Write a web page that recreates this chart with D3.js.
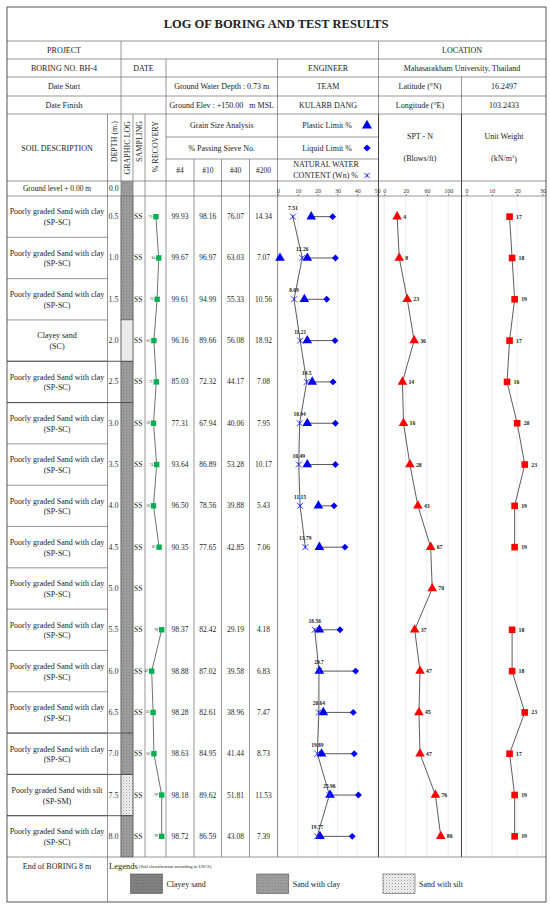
<!DOCTYPE html>
<html>
<head>
<meta charset="utf-8">
<script src="https://cdn.jsdelivr.net/npm/d3@7"></script>
<style>
  body { margin: 0; background: #fff; }
  svg { font-family: "Liberation Serif", "Times New Roman", serif; }
</style>
</head>
<body>
<svg width="550" height="910"></svg>
<script>
'use strict';

const depths = [0.5, 1.0, 1.5, 2.0, 2.5, 3.0, 3.5, 4.0, 4.5, 5.0, 5.5, 6.0, 6.5, 7.0, 7.5, 8.0]
const soilNames = ['Poorly graded Sand with clay', 'Poorly graded Sand with clay', 'Poorly graded Sand with clay',
  'Clayey sand', 'Poorly graded Sand with clay', 'Poorly graded Sand with clay', 'Poorly graded Sand with clay',
  'Poorly graded Sand with clay', 'Poorly graded Sand with clay', 'Poorly graded Sand with clay',
  'Poorly graded Sand with clay', 'Poorly graded Sand with clay', 'Poorly graded Sand with clay',
  'Poorly graded Sand with clay', 'Poorly graded Sand with silt', 'Poorly graded Sand with clay']
const uscs = ['(SP-SC)', '(SP-SC)', '(SP-SC)', '(SC)', '(SP-SC)', '(SP-SC)', '(SP-SC)', '(SP-SC)',
  '(SP-SC)', '(SP-SC)', '(SP-SC)', '(SP-SC)', '(SP-SC)', '(SP-SC)', '(SP-SM)', '(SP-SC)']
const sampling = depths.map(() => 'SS')
const recovery = [70, 84, 76, 60, 72, 58, 74, 58, 86, null, 99, 49, 56, 60, 99, 99]
const sieve4 = [99.93, 99.67, 99.61, 96.16, 85.03, 77.31, 93.64, 96.50, 90.35, null, 98.37, 98.88, 98.28, 98.63, 98.18, 98.72]
const sieve10 = [98.16, 96.97, 94.99, 89.66, 72.32, 67.94, 86.89, 78.56, 77.65, null, 82.42, 87.02, 82.61, 84.95, 89.62, 86.59]
const sieve40 = [76.07, 63.03, 55.33, 56.08, 44.17, 40.06, 53.28, 39.88, 42.85, null, 29.19, 39.58, 38.96, 41.44, 51.81, 43.08]
const sieve200 = [14.34, 7.07, 10.56, 18.92, 7.08, 7.95, 10.17, 5.43, 7.06, null, 4.18, 6.83, 7.47, 8.73, 11.53, 7.39]
const waterContent = [7.51, 12.26, 8.09, 11.21, 14.5, 10.94, 10.49, 11.15, 13.79, null, 18.56, 20.7, 20.64, 19.89, 25.96, 19.77]
const plasticLimit = [16.8, 14.8, 13.3, 14.8, 17.3, 14.8, 14.8, 20.4, 20.9, null, 20.9, 20.9, 22.9, 22, 26.3, 21.2]
const liquidLimit = [27.6, 29, 24.6, 28.8, 27.8, 29, 29, 28.3, 33.8, null, 31.3, 39.2, 38, 38.5, 40.6, 37.5]
const extraPlastic = [{depth: 1.0, value: 1}]
const sptN = [4, 8, 23, 36, 14, 16, 28, 43, 67, 70, 37, 47, 45, 47, 76, 86]
const unitWeight = [17, 18, 19, 17, 16, 20, 23, 19, 19, null, 18, 18, 23, 17, 19, 19]

const moistTicks = [0, 10, 20, 30, 40, 50]
const sptTicks = [-20, 20, 60, 100]
const sptTickLabels = ['0', '20', '60', '100']
const uwTicks = [0, 10, 20, 30]

const logLayers = [
  {from: 0.5, to: 1.5, kind: 'sandClay'},
  {from: 2.0, to: 2.0, kind: 'clayey'},
  {from: 2.5, to: 7.0, kind: 'sandClay'},
  {from: 7.5, to: 7.5, kind: 'silt'},
  {from: 8.0, to: 8.0, kind: 'sandClay'}
]
const layerBreaks = [2.5, 3.0, 7.0, 7.5, 8.0]
const legendItems = [
  {label: 'Clayey sand', kind: 'legendClayey'},
  {label: 'Sand with clay', kind: 'sandClay'},
  {label: 'Sand with silt', kind: 'silt'}
]

// ---- layout ----
const svg = d3.select('svg')
const L = 7, R = 546
const col = {desc: 107.5, depth: 121, glog: 133, samp: 145, rec: 166, s4: 194, s10: 221.5, s40: 249.5, s200: 277.5, moist: 378.5, spt: 461.5}
const rowTop = 196, rowBottom = 857, groundTop = 181
const lineColor = '#6a6a6a'

const y = d3.scaleBand().domain(depths).range([rowTop, rowBottom])
const bw = y.bandwidth()
const cy = (d) => y(d) + bw / 2

const xRec = d3.scaleLinear().domain([0, 100]).range([141.9, 161.9])
const xMoist = d3.scaleLinear().domain([0, 50]).range([278, 377])
const xSpt = d3.scaleLinear().domain([0, 100]).range([395, 448.2])
const xUw = d3.scaleLinear().domain([0, 30]).range([466.5, 542.5])

const rows = depths.map((d, i) => ({
  depth: d, name: soilNames[i], uscs: uscs[i], samp: sampling[i], rec: recovery[i],
  s4: sieve4[i], s10: sieve10[i], s40: sieve40[i], s200: sieve200[i],
  wn: waterContent[i], pl: plasticLimit[i], ll: liquidLimit[i], spt: sptN[i], uw: unitWeight[i]
}))

// X marker with a short bar, like the spreadsheet "star" marker
const symbolStarX = {
  draw(ctx, size) {
    const r = Math.sqrt(size) / 2
    ctx.moveTo(-r, -r); ctx.lineTo(r, r)
    ctx.moveTo(r, -r); ctx.lineTo(-r, r)
    ctx.moveTo(0, -r * 0.6); ctx.lineTo(0, r * 0.6)
  }
}

// patterns
const defs = svg.append('defs')
function dotPattern(id, bg, d1, d2) {
  const p = defs.append('pattern').attr('id', id).attr('width', 3).attr('height', 3).attr('patternUnits', 'userSpaceOnUse')
  p.append('rect').attr('width', 3).attr('height', 3).attr('fill', bg)
  if (d1) p.append('rect').attr('width', 1).attr('height', 1).attr('fill', d1)
  if (d2) p.append('rect').attr('x', 1.5).attr('y', 1.5).attr('width', 1).attr('height', 1).attr('fill', d2)
}
dotPattern('sandClay', '#a0a0a0', '#7e7e7e', '#8a8a8a')
dotPattern('clayey', '#ebebeb')
dotPattern('legendClayey', '#858585', '#606060', '#6a6a6a')
dotPattern('silt', '#f3f3f3', '#9a9a9a', '#b5b5b5')

function text(x, yy, s, size, anchor, weight) {
  return svg.append('text')
    .attr('x', x).attr('y', yy)
    .attr('text-anchor', anchor || 'middle')
    .attr('dominant-baseline', 'central')
    .style('font-size', (size || 8) + 'px')
    .style('font-weight', weight || 'normal')
    .style('white-space', 'pre')
    .attr('fill', '#222')
    .text(s)
}
function hline(x1, x2, yy, w, c) {
  svg.append('line').attr('x1', x1).attr('x2', x2).attr('y1', yy).attr('y2', yy)
    .attr('stroke', c || lineColor).attr('stroke-width', w || 0.7)
}
function vline(x, y1, y2, w, c) {
  svg.append('line').attr('x1', x).attr('x2', x).attr('y1', y1).attr('y2', y2)
    .attr('stroke', c || lineColor).attr('stroke-width', w || 0.7)
}

// ---- graphic log ----
svg.append('rect').attr('x', col.depth).attr('y', groundTop).attr('width', col.glog - col.depth)
  .attr('height', rowTop - groundTop).attr('fill', 'url(#sandClay)')
svg.selectAll('rect.layer').data(logLayers).enter().append('rect').classed('layer', true)
  .attr('x', col.depth).attr('width', col.glog - col.depth)
  .attr('y', (d) => y(d.from))
  .attr('height', (d) => y(d.to) + bw - y(d.from))
  .attr('fill', (d) => 'url(#' + d.kind + ')')
  .attr('stroke', '#555').attr('stroke-width', 0.5)

// ---- chart gridlines ----
const grid = svg.append('g').attr('stroke', '#e2e2e2').attr('stroke-width', 0.6)
moistTicks.forEach((t) => grid.append('line').attr('x1', xMoist(t)).attr('x2', xMoist(t)).attr('y1', rowTop).attr('y2', rowBottom))
sptTicks.forEach((t) => grid.append('line').attr('x1', xSpt(t)).attr('x2', xSpt(t)).attr('y1', rowTop).attr('y2', rowBottom))
uwTicks.forEach((t) => grid.append('line').attr('x1', xUw(t)).attr('x2', xUw(t)).attr('y1', rowTop).attr('y2', rowBottom))

// ---- table lines ----
;[41, 59, 77, 96, 114, groundTop].forEach((yy) => hline(L, R, yy))
hline(L, col.depth, rowTop); hline(col.glog, R, rowTop)
hline(L, R, rowBottom)
hline(col.rec, col.moist, 137); hline(col.rec, col.moist, 159)
depths.slice(1).forEach((d) => hline(L, col.desc, y(d)))
layerBreaks.forEach((d) => hline(L, col.glog, y(d), 0.9, '#444'))

vline(col.depth, 41, 114); vline(col.moist, 41, 114)
vline(col.rec, 59, 114); vline(col.s200, 59, 114); vline(col.spt, 77, 114)
;[col.desc, col.depth, col.glog, col.samp, col.rec, col.s200].forEach((x) => vline(x, 114, rowBottom))
;[col.s4, col.s10, col.s40].forEach((x) => vline(x, 159, rowBottom))
vline(col.moist, 114, rowBottom, 1, '#444'); vline(col.spt, 114, rowBottom, 1, '#444')
vline(col.desc, rowBottom, 902)
svg.append('rect').attr('x', L).attr('y', 7).attr('width', R - L).attr('height', 895)
  .attr('fill', 'none').attr('stroke', '#444').attr('stroke-width', 0.9)

// ---- heading ----
text(276, 24, 'LOG OF BORING AND TEST RESULTS', 12.5, 'middle', 'bold')
text(64, 50, 'PROJECT'); text(462, 50, 'LOCATION')
text(64, 68, 'BORING NO. BH-4'); text(143.5, 68, 'DATE'); text(328, 68, 'ENGINEER')
text(462, 68, 'Mahasarakham University, Thailand')
text(64, 86.5, 'Date Start'); text(221.75, 86.5, 'Ground Water Depth : 0.73 m'); text(328, 86.5, 'TEAM')
text(420, 86.5, 'Latitude (°N)'); text(504, 86.5, '16.2497')
text(64, 105, 'Date Finish'); text(221.75, 105, 'Ground Elev : +150.00   m MSL'); text(328, 105, 'KULARB DANG')
text(420, 105, 'Longitude (°E)'); text(504, 105, '103.2433')

text(57, 148, 'SOIL DESCRIPTION')
;[['DEPTH (m.)', 114.3], ['GRAPHIC LOG', 127], ['SAMPLING', 139], ['% RECOVERY', 155.5]].forEach(([s, x]) => {
  svg.append('text').attr('transform', `translate(${x},121) rotate(-90)`)
    .attr('text-anchor', 'end').attr('dominant-baseline', 'central')
    .style('font-size', '8px').attr('fill', '#222').text(s)
})
text(221.75, 125.5, 'Grain Size Analysis'); text(221.75, 148, '% Passing Sieve No.')
;[['#4', col.rec, col.s4], ['#10', col.s4, col.s10], ['#40', col.s10, col.s40], ['#200', col.s40, col.s200]]
  .forEach(([s, a, b]) => text((a + b) / 2, 170, s, 7.5))
text(352, 125.5, 'Plastic Limit %', 8, 'end')
text(352, 148, 'Liquid Limit %', 8, 'end')
text(326, 164.5, 'NATURAL WATER', 8)
text(358, 175.5, 'CONTENT (Wn) %', 8, 'end')
svg.append('path').attr('d', d3.symbol(d3.symbolTriangle, 44)()).attr('transform', 'translate(367,125.5)').attr('fill', '#0000ee')
svg.append('path').attr('d', d3.symbol(d3.symbolSquare, 26)()).attr('transform', 'translate(367,148) rotate(45)').attr('fill', '#0000ee')
svg.append('path').attr('d', d3.symbol(symbolStarX, 30)()).attr('transform', 'translate(367,175.5)')
  .attr('fill', 'none').attr('stroke', '#2222ee').attr('stroke-width', 0.9)
text(420, 136.5, 'SPT - N'); text(420, 158.5, '(Blows/ft)')
text(504, 136.5, 'Unit Weight')
const uwUnit = text(504, 158.5, '(kN/m', 8)
uwUnit.append('tspan').attr('dy', -3).style('font-size', '5px').text('3')
uwUnit.append('tspan').attr('dy', 3).text(')')

text(57, 188.5, 'Ground level + 0.00 m', 7.5)
text(109, 188.5, '0.0', 7.5, 'start')

// ---- axes ----
function topAxis(scale, ticks, fmt) {
  const g = svg.append('g').attr('transform', `translate(0,${rowTop})`)
    .call(d3.axisTop(scale).tickValues(ticks).tickSize(2).tickPadding(1).tickFormat(fmt))
  g.select('.domain').remove()
  g.selectAll('.tick line').attr('stroke', '#888')
  g.selectAll('.tick text').style('font-size', '6px').attr('fill', '#333')
    .style('font-family', '"Liberation Serif", serif')
}
topAxis(xMoist, moistTicks, d3.format('d'))
topAxis(xSpt, sptTicks, (d, i) => sptTickLabels[i])
topAxis(xUw, uwTicks, d3.format('d'))

// ---- table rows ----
const rowG = svg.selectAll('g.row').data(rows).enter().append('g').classed('row', true)
rowG.append('text').attr('x', 57).attr('y', (d) => cy(d.depth) - 4.7).attr('text-anchor', 'middle')
  .attr('dominant-baseline', 'central').style('font-size', '8px').attr('fill', '#222').text((d) => d.name)
rowG.append('text').attr('x', 57).attr('y', (d) => cy(d.depth) + 6).attr('text-anchor', 'middle')
  .attr('dominant-baseline', 'central').style('font-size', '8px').attr('fill', '#222').text((d) => d.uscs)
rowG.append('text').attr('x', 108.5).attr('y', (d) => cy(d.depth)).attr('dominant-baseline', 'central')
  .style('font-size', '8px').attr('fill', '#333').text((d) => d.depth.toFixed(1))
rowG.append('text').attr('x', 134).attr('y', (d) => cy(d.depth)).attr('dominant-baseline', 'central')
  .style('font-size', '7.5px').attr('fill', '#222').text((d) => d.samp)

const sieveCols = [['s4', col.rec, col.s4], ['s10', col.s4, col.s10], ['s40', col.s10, col.s40], ['s200', col.s40, col.s200]]
sieveCols.forEach(([k, a, b]) => {
  rowG.filter((d) => d[k] != null).append('text')
    .attr('x', (a + b) / 2).attr('y', (d) => cy(d.depth))
    .attr('text-anchor', 'middle').attr('dominant-baseline', 'central')
    .style('font-size', '7.5px').attr('fill', '#222').text((d) => d[k].toFixed(2))
})

// recovery
const recLine = d3.line().defined((d) => d.rec != null).x((d) => xRec(d.rec)).y((d) => cy(d.depth))
svg.append('path').attr('d', recLine(rows)).attr('fill', 'none').attr('stroke', '#333').attr('stroke-width', 0.7)
const recPts = rows.filter((d) => d.rec != null)
svg.selectAll('rect.rec').data(recPts).enter().append('rect').classed('rec', true)
  .attr('x', (d) => xRec(d.rec) - 2.7).attr('y', (d) => cy(d.depth) - 2.7)
  .attr('width', 5.4).attr('height', 5.4).attr('fill', '#00b050')
svg.selectAll('text.rec').data(recPts).enter().append('text').classed('rec', true)
  .attr('x', (d) => xRec(d.rec) - 3.7).attr('y', (d) => cy(d.depth))
  .attr('text-anchor', 'end').attr('dominant-baseline', 'central')
  .style('font-size', '3.6px').attr('fill', '#333').text((d) => d.rec)

// ---- water content / limits ----
const wnLine = d3.line().defined((d) => d.wn != null).x((d) => xMoist(d.wn)).y((d) => cy(d.depth))
svg.append('path').attr('d', wnLine(rows)).attr('fill', 'none').attr('stroke', '#333').attr('stroke-width', 0.8)
const limRows = rows.filter((d) => d.pl != null)
svg.selectAll('line.lim').data(limRows).enter().append('line').classed('lim', true)
  .attr('x1', (d) => xMoist(d.pl)).attr('x2', (d) => xMoist(d.ll))
  .attr('y1', (d) => cy(d.depth)).attr('y2', (d) => cy(d.depth))
  .attr('stroke', '#444').attr('stroke-width', 0.9)
svg.selectAll('path.pl').data(limRows.map((d) => ({depth: d.depth, value: d.pl})).concat(extraPlastic))
  .enter().append('path').classed('pl', true)
  .attr('d', d3.symbol(d3.symbolTriangle, 40)())
  .attr('transform', (d) => `translate(${xMoist(d.value)},${cy(d.depth)})`)
  .attr('fill', '#0000ee')
svg.selectAll('path.ll').data(limRows).enter().append('path').classed('ll', true)
  .attr('d', d3.symbol(d3.symbolSquare, 24)())
  .attr('transform', (d) => `translate(${xMoist(d.ll)},${cy(d.depth)}) rotate(45)`)
  .attr('fill', '#0000ee')
const wnRows = rows.filter((d) => d.wn != null)
svg.selectAll('path.wn').data(wnRows).enter().append('path').classed('wn', true)
  .attr('d', d3.symbol(symbolStarX, 36)())
  .attr('transform', (d) => `translate(${xMoist(d.wn)},${cy(d.depth)})`)
  .attr('fill', 'none').attr('stroke', '#2a2aee').attr('stroke-width', 0.9)
svg.selectAll('text.wn').data(wnRows).enter().append('text').classed('wn', true)
  .attr('x', (d) => xMoist(d.wn)).attr('y', (d) => cy(d.depth) - 9)
  .attr('text-anchor', 'middle').attr('dominant-baseline', 'central')
  .style('font-size', '5.5px').style('font-weight', 'bold').attr('fill', '#222').text((d) => String(d.wn))

// ---- SPT ----
const sptLine = d3.line().x((d) => xSpt(d.spt)).y((d) => cy(d.depth))
svg.append('path').attr('d', sptLine(rows)).attr('fill', 'none').attr('stroke', '#333').attr('stroke-width', 0.8)
svg.selectAll('path.spt').data(rows).enter().append('path').classed('spt', true)
  .attr('d', d3.symbol(d3.symbolTriangle, 40)())
  .attr('transform', (d) => `translate(${xSpt(d.spt)},${cy(d.depth)})`)
  .attr('fill', '#ff0000')
svg.selectAll('text.spt').data(rows).enter().append('text').classed('spt', true)
  .attr('x', (d) => xSpt(d.spt) + 6).attr('y', (d) => cy(d.depth))
  .attr('dominant-baseline', 'central').style('font-size', '5.8px').style('font-weight', 'bold')
  .attr('fill', '#222').text((d) => d.spt)

// ---- unit weight ----
const uwLine = d3.line().defined((d) => d.uw != null).x((d) => xUw(d.uw)).y((d) => cy(d.depth))
svg.append('path').attr('d', uwLine(rows)).attr('fill', 'none').attr('stroke', '#333').attr('stroke-width', 0.8)
const uwRows = rows.filter((d) => d.uw != null)
svg.selectAll('rect.uw').data(uwRows).enter().append('rect').classed('uw', true)
  .attr('x', (d) => xUw(d.uw) - 3.3).attr('y', (d) => cy(d.depth) - 3.3)
  .attr('width', 6.6).attr('height', 6.6).attr('fill', '#ff0000')
svg.selectAll('text.uw').data(uwRows).enter().append('text').classed('uw', true)
  .attr('x', (d) => xUw(d.uw) + 6.5).attr('y', (d) => cy(d.depth))
  .attr('dominant-baseline', 'central').style('font-size', '5.8px').style('font-weight', 'bold')
  .attr('fill', '#222').text((d) => d.uw)

// ---- bottom / legend ----
text(57, 866, 'End of BORING 8 m', 8)
const legTitle = text(109, 865.5, 'Legends', 8.5, 'start')
legTitle.append('tspan').style('font-size', '4.6px').text(' (Soil classification according to USCS)')
const legX = d3.scalePoint().domain(legendItems.map((d) => d.label)).range([130.5, 383]).padding(0)
const leg = svg.selectAll('g.leg').data(legendItems).enter().append('g').classed('leg', true)
  .attr('transform', (d) => `translate(${legX(d.label)},874)`)
leg.append('rect').attr('width', 32).attr('height', 19.5).attr('fill', (d) => 'url(#' + d.kind + ')')
  .attr('stroke', '#555').attr('stroke-width', 0.6)
leg.append('text').attr('x', 36).attr('y', 10).attr('dominant-baseline', 'central')
  .style('font-size', '8px').attr('fill', '#222').text((d) => d.label)
</script>
</body>
</html>
